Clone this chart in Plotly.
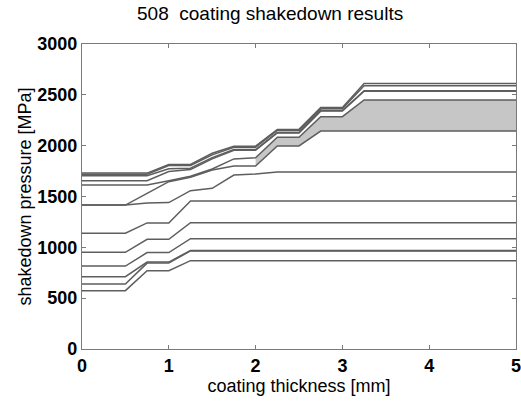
import plotly.graph_objects as go

thickness = [0, 0.5, 0.75, 1.0, 1.25, 1.5, 1.75, 2.0, 2.25, 2.5, 2.75, 3.0, 3.25, 5.0]

# upper family (staircase)
t1 = [1730, 1730, 1730, 1815, 1815, 1925, 1995, 1995, 2160, 2160, 2375, 2375, 2612, 2612]
t2 = [1720, 1720, 1720, 1805, 1805, 1910, 1985, 1985, 2150, 2150, 2362, 2362, 2590, 2590]
t3 = [1705, 1705, 1705, 1772, 1778, 1882, 1962, 1962, 2130, 2130, 2345, 2345, 2540, 2540]
t3b = [1655, 1655, 1655, 1745, 1765, 1870, 1955, 1955, 2125, 2125, 2340, 2340, 2535, 2535]
t4 = [1613, 1613, 1613, 1655, 1700, 1770, 1870, 1880, 2082, 2082, 2285, 2285, 2450, 2450]
t5 = [1416, 1416, 1530, 1646, 1690, 1760, 1800, 1800, 1997, 1997, 2144, 2144, 2144, 2144]
# lower family
l1 = [1416, 1416, 1435, 1440, 1557, 1580, 1711, 1722, 1742, 1742, 1742, 1742, 1742, 1742]
l2 = [1138, 1138, 1240, 1240, 1456, 1456, 1456, 1456, 1456, 1456, 1456, 1456, 1456, 1456]
l3 = [951, 951, 1079, 1079, 1242, 1242, 1242, 1242, 1242, 1242, 1242, 1242, 1242, 1242]
l4 = [816, 816, 948, 948, 1085, 1085, 1085, 1085, 1085, 1085, 1085, 1085, 1085, 1085]
l5 = [711, 711, 855, 855, 970, 970, 970, 970, 970, 970, 970, 970, 970, 970]
l6 = [639, 639, 845, 845, 965, 965, 965, 965, 965, 965, 965, 965, 965, 965]
l7 = [574, 574, 770, 770, 869, 869, 869, 869, 869, 869, 869, 869, 869, 869]

# shaded band only where the two bounding curves separate (from 2 mm on)
band_start = 7

x_ticks = [0, 1, 2, 3, 4, 5]
y_ticks = [0, 500, 1000, 1500, 2000, 2500, 3000]

line_col = "#5e5e5e"
fig = go.Figure()

fig.add_trace(go.Scatter(x=thickness[band_start:], y=t5[band_start:], mode="lines",
                         line=dict(color="rgba(0,0,0,0)", width=0), showlegend=False,
                         hoverinfo="skip"))
fig.add_trace(go.Scatter(x=thickness[band_start:], y=t4[band_start:], mode="lines",
                         fill="tonexty", fillcolor="#c6c6c6",
                         line=dict(color="rgba(0,0,0,0)", width=0), showlegend=False,
                         hoverinfo="skip"))

for s in [t1, t2, t3, t3b, t4, t5, l1, l2, l3, l4, l5, l6, l7]:
    fig.add_trace(go.Scatter(x=thickness, y=s, mode="lines",
                             line=dict(color=line_col, width=1.5), showlegend=False))

font_family = "Liberation Sans, Arial, sans-serif"
axis_common = dict(showline=True, linecolor="#7a7a7a", linewidth=1.2,
                   mirror="ticks", ticks="inside", ticklen=4, tickcolor="#7a7a7a",
                   showgrid=False, zeroline=False, automargin=False,
                   ticklabeloverflow="allow",
                   tickfont=dict(family=font_family, size=18, color="black",
                                 weight="bold"))

fig.update_layout(
    width=521, height=401,
    margin=dict(l=82, r=5, t=44, b=52),
    paper_bgcolor="white", plot_bgcolor="white",
    showlegend=False,
    xaxis=dict(range=[0, 5], tickvals=x_ticks, ticktext=[str(v) for v in x_ticks],
               title=dict(text="coating thickness [mm]", standoff=0,
                          font=dict(family=font_family, size=18, color="black")),
               **axis_common),
    yaxis=dict(range=[0, 3000], tickvals=y_ticks, ticktext=[str(v) for v in y_ticks],
               title=dict(text="shakedown pressure [MPa]", standoff=0,
                          font=dict(family=font_family, size=18, color="black")),
               **axis_common),
    annotations=[dict(text="508  coating shakedown results",
                      x=(270 - 82) / 434, y=1 + (44 - 14) / 305,
                      xref="paper", yref="paper", showarrow=False,
                      xanchor="center", yanchor="middle",
                      font=dict(family=font_family, size=19, color="black"))],
)

fig.write_html("out.html", config={"displayModeBar": False},
               post_script="document.body.style.margin='0';document.body.style.overflow='hidden';")
